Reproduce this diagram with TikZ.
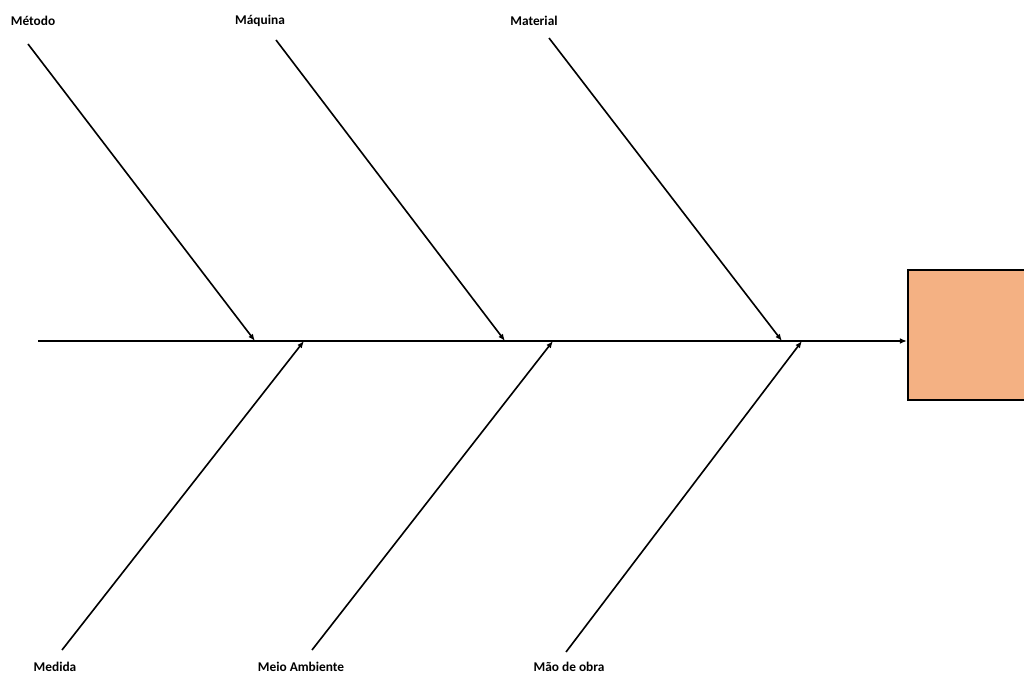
\documentclass[tikz,border=0pt]{standalone}
\usepackage{fontspec}
\setmainfont{Carlito}
\usetikzlibrary{arrows.meta}
\definecolor{efeito}{HTML}{F4B183}

\begin{document}
\begin{tikzpicture}[x=0.025cm,y=-0.025cm,>={Latex[length=5pt,width=4pt]},
  lbl/.style={font=\fontsize{9.5}{11}\selectfont\bfseries}]
  \useasboundingbox (0,0) rectangle (1024,675);
  \clip (0,0) rectangle (1024,675);
  % efeito
  \draw[line width=1.3pt,fill=efeito] (908,270) rectangle (1030,400);
  \coordinate (S0) at (38,341);
  \coordinate (S1) at (907,341);
  \draw[->,line width=1.3pt] (S0)--(S1);
  % causas de cima
  \node[lbl] (metodo) at (33,21){Método};
  \node[lbl] (maquina) at (260,21){Máquina};
  \node[lbl] (material) at (534,21){Material};
  \coordinate (A1) at (28,44);   \coordinate (B1) at (255,341);
  \coordinate (A2) at (276,40);  \coordinate (B2) at (505,341);
  \coordinate (A3) at (549,38);  \coordinate (B3) at (782,341);
  \draw[->,line width=1.15pt] (A1)--(B1);
  \draw[->,line width=1.15pt] (A2)--(B2);
  \draw[->,line width=1.15pt] (A3)--(B3);
  % causas de baixo
  \node[lbl] (medida) at (55,667){Medida};
  \node[lbl] (meio) at (301,667){Meio Ambiente};
  \node[lbl] (mao) at (569,667){Mão de obra};
  \coordinate (C1) at (62,650);  \coordinate (D1) at (304,341);
  \coordinate (C2) at (312,650); \coordinate (D2) at (553,341);
  \coordinate (C3) at (566,652); \coordinate (D3) at (802,341);
  \draw[->,line width=1.15pt] (C1)--(D1);
  \draw[->,line width=1.15pt] (C2)--(D2);
  \draw[->,line width=1.15pt] (C3)--(D3);
\end{tikzpicture}
\end{document}
